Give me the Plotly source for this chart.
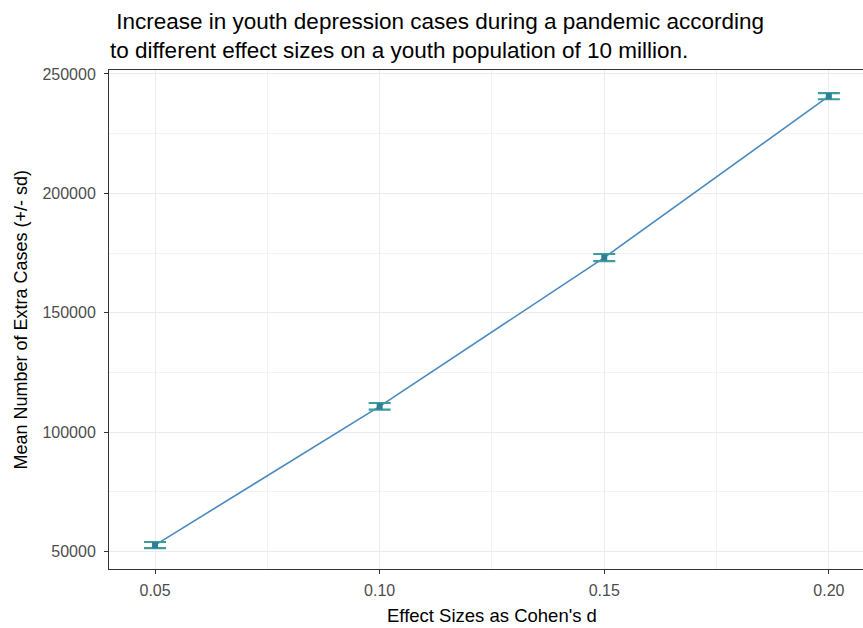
import plotly.graph_objects as go

effect_sizes = [0.05, 0.10, 0.15, 0.20]
mean_cases = [52700, 110800, 173100, 240700]
sd_cases = [1300, 1400, 1500, 1300]
x_tick_vals = [0.05, 0.10, 0.15, 0.20]
x_tick_text = ["0.05", "0.10", "0.15", "0.20"]
y_tick_vals = [50000, 100000, 150000, 200000, 250000]
y_tick_text = ["50000", "100000", "150000", "200000", "250000"]

W, H = 863, 628
ML, MR, MT, MB = 109, 0, 70, 59
PW, PH = W - ML - MR, H - MT - MB

fig = go.Figure()
fig.add_trace(go.Scatter(
    x=effect_sizes, y=mean_cases, mode="lines",
    line=dict(color="#4a8abf", width=1.6), showlegend=False, hoverinfo="skip"))
fig.add_trace(go.Scatter(
    x=effect_sizes, y=mean_cases, mode="markers",
    marker=dict(color="#2e7f95", size=6, symbol="square"),
    error_y=dict(type="data", array=sd_cases, visible=True,
                 color="#3d9c9c", thickness=2.2, width=11),
    showlegend=False))

font_family = "Liberation Sans, Arial, sans-serif"

fig.update_layout(
    width=W, height=H,
    margin=dict(l=ML, r=MR, t=MT, b=MB, autoexpand=False),
    paper_bgcolor="white", plot_bgcolor="white",
    font=dict(family=font_family, color="black"),
    xaxis=dict(
        range=[0.03975, 0.2076],
        tickvals=x_tick_vals, ticktext=x_tick_text,
        ticks="outside", ticklen=4, tickcolor="#333333", tickwidth=1,
        tickfont=dict(size=16, color="#4d4d4d"), ticklabelstandoff=3,
        showgrid=True, gridcolor="#ebebeb", gridwidth=1.3,
        minor=dict(dtick=0.05, tick0=0.025, showgrid=True, gridcolor="#f2f2f2", gridwidth=0.7, ticks=""),
        showline=True, linecolor="#333333", linewidth=1, mirror=True,
        zeroline=False, automargin=False),
    yaxis=dict(
        range=[42700, 251650],
        tickvals=y_tick_vals, ticktext=y_tick_text,
        ticks="outside", ticklen=4, tickcolor="#333333", tickwidth=1,
        tickfont=dict(size=16, color="#4d4d4d"), ticklabelstandoff=5,
        showgrid=True, gridcolor="#ebebeb", gridwidth=1.3,
        minor=dict(dtick=50000, tick0=25000, showgrid=True, gridcolor="#f2f2f2", gridwidth=0.7, ticks=""),
        showline=True, linecolor="#333333", linewidth=1, mirror=True,
        zeroline=False, automargin=False),
    annotations=[
        dict(text="\u00a0Increase in youth depression cases during a pandemic according<br>to different effect sizes on a youth population of 10 million.",
             xref="paper", yref="paper",
             x=(108 - ML) / PW, y=1 + (MT - 7) / PH,
             xanchor="left", yanchor="top", align="left", showarrow=False,
             font=dict(size=22.5, color="black", family=font_family)),
        dict(text="Effect Sizes as Cohen's d",
             xref="paper", yref="paper",
             x=(492 - ML) / PW, y=-(MB - 1) / PH,
             xanchor="center", yanchor="bottom", showarrow=False, borderpad=0,
             font=dict(size=18.5, color="black", family=font_family)),
        dict(text="Mean Number of Extra Cases (+/- sd)",
             xref="paper", yref="paper",
             x=-(ML - 20) / PW, y=0.5, textangle=-90,
             xanchor="center", yanchor="middle", showarrow=False,
             font=dict(size=18, color="black", family=font_family)),
    ],
)

fig.write_html("out.html",
               config={"displayModeBar": False},
               post_script="document.body.style.margin='0';document.body.style.padding='0';")
